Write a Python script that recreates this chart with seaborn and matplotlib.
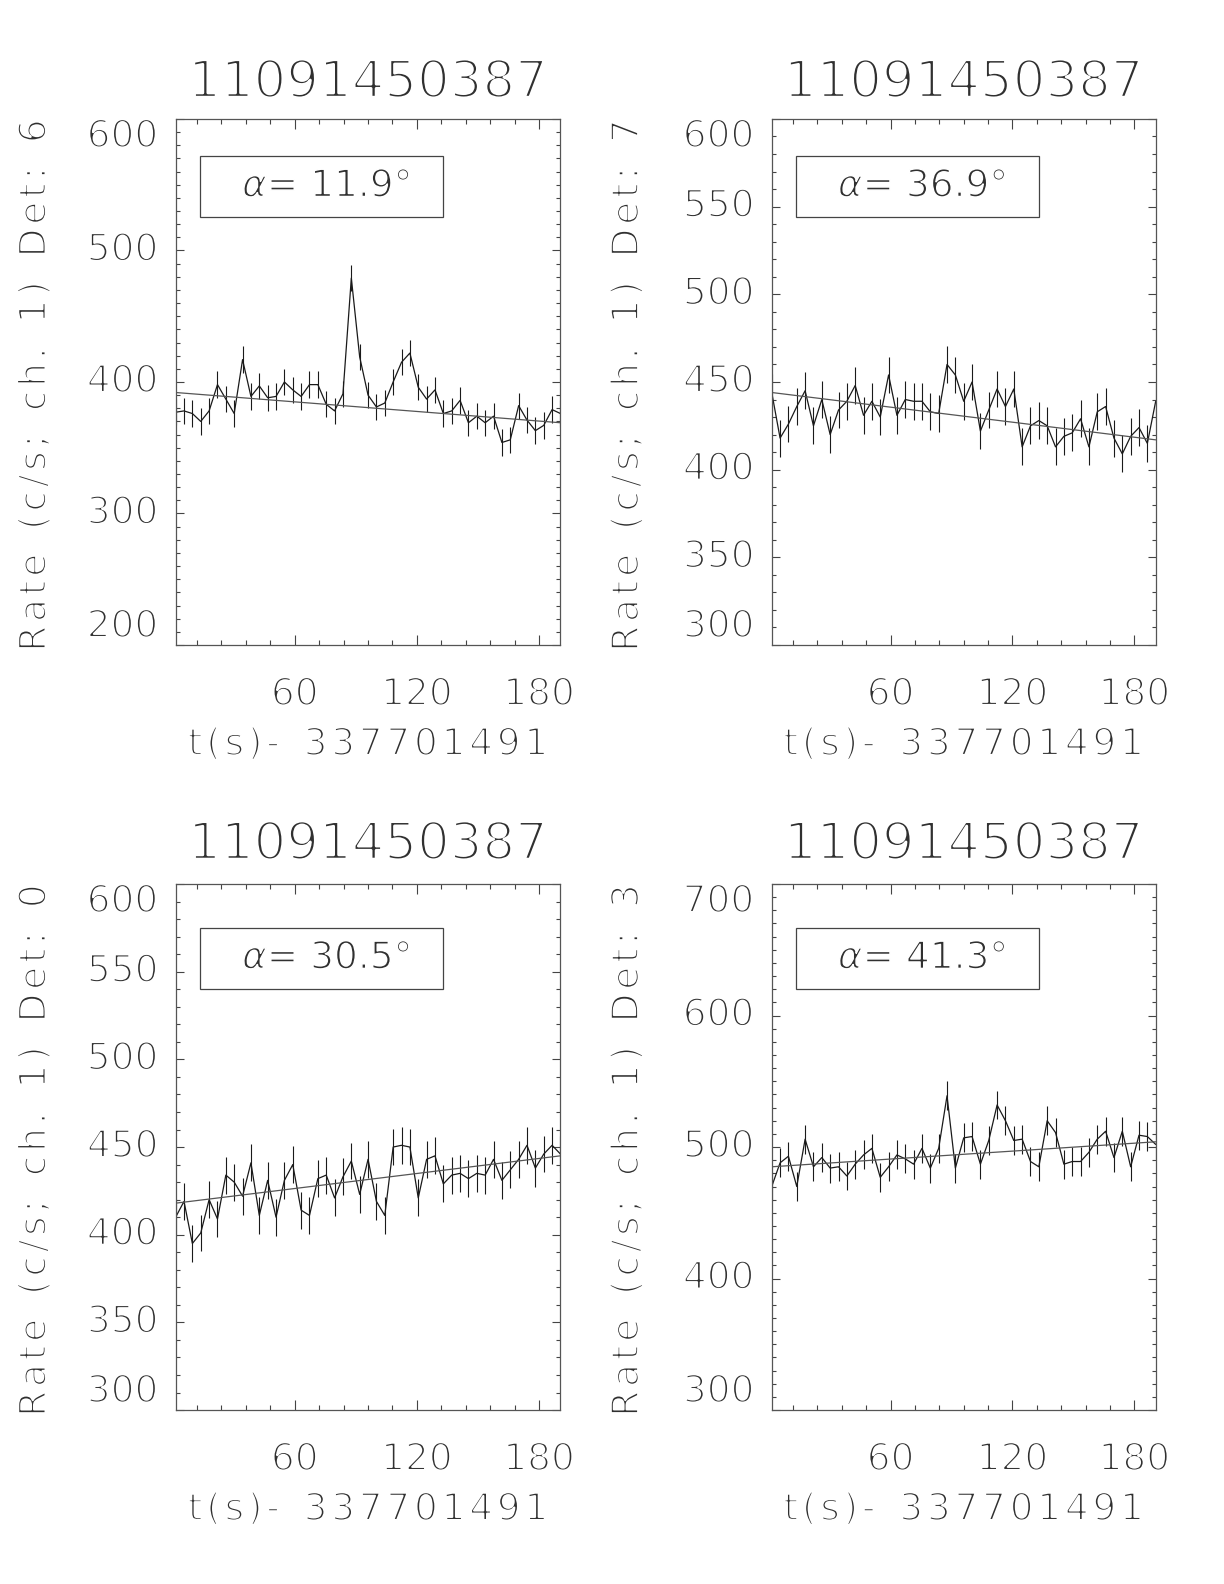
import numpy as np
import pandas as pd
import seaborn as sns
import matplotlib.pyplot as plt
import matplotlib.patheffects as pe
from matplotlib.patches import Rectangle
from matplotlib.ticker import MultipleLocator

# observation / time reference
obs_id = '11091450387'
t_ref = '337701491'
t_first, t_last, n_bins = 1.5, 190.5, 47

# light curves, channel 1 (c/s)
rate_det6 = [377, 378, 376, 370, 378, 398, 387, 376, 417, 389, 397, 388, 389, 400, 394, 389,
             398, 398, 383, 378, 391, 479, 419, 390, 381, 384, 400, 415, 422, 396, 387, 394,
             376, 378, 386, 369, 374, 369, 374, 354, 356, 382, 371, 363, 367, 379, 376]
rate_det7 = [444, 418, 426, 436, 445, 425, 440, 420, 434, 439, 448, 431, 439, 430, 454, 431,
             440, 439, 439, 433, 432, 460, 454, 439, 450, 422, 434, 446, 436, 446, 413, 425,
             428, 425, 413, 419, 421, 429, 413, 433, 436, 418, 409, 419, 424, 415, 439]
rate_det0 = [410, 419, 395, 401, 420, 409, 434, 430, 422, 441, 411, 431, 410, 431, 440, 414,
             411, 432, 434, 421, 433, 442, 423, 443, 419, 411, 450, 451, 450, 421, 443, 445,
             429, 434, 435, 432, 435, 434, 443, 431, 437, 443, 451, 438, 446, 451, 446]
rate_det3 = [470, 488, 493, 470, 506, 485, 492, 484, 485, 478, 487, 494, 499, 477, 485, 494,
             491, 487, 499, 484, 499, 539, 484, 507, 508, 487, 505, 532, 520, 505, 506, 489,
             485, 520, 511, 487, 489, 489, 496, 506, 512, 492, 512, 485, 509, 508, 502]

# error bar half widths (c/s)
err_det6, err_det7, err_det0, err_det3 = 10.0, 10.5, 10.5, 11.0

# linear background fit: value at first and last bin
fit_det6 = [392, 369]
fit_det7 = [444, 417]
fit_det0 = [418, 445]
fit_det3 = [485, 504]

alpha_deg = {'6': 11.9, '7': 36.9, '0': 30.5, '3': 41.3}

panels = [
    # det, rates, err, fit, ylim, y major, axes rect, row
    ('6', rate_det6, err_det6, fit_det6, (200, 600), 100, [0.1435, 0.5928, 0.3144, 0.3321], 0),
    ('7', rate_det7, err_det7, fit_det7, (300, 600), 50, [0.6305, 0.5928, 0.3137, 0.3321], 0),
    ('0', rate_det0, err_det0, fit_det0, (300, 600), 50, [0.1435, 0.1098, 0.3144, 0.3321], 1),
    ('3', rate_det3, err_det3, fit_det3, (300, 700), 100, [0.6305, 0.1098, 0.3137, 0.3321], 1),
]

sns.set_style('ticks')
plt.rcParams['font.family'] = ['DejaVu Sans']
plt.rcParams['mathtext.fontset'] = 'dejavusans'

txt_col = '#303030'
ink = '#1a1a1a'
fs = 27

# thin the glyphs a bit so they look like the hairline plotting font
thin = [pe.Stroke(linewidth=1.5, foreground='white')]
thin_small = [pe.Stroke(linewidth=1.1, foreground='white')]
thin_big = [pe.Stroke(linewidth=2.0, foreground='white')]


def spaced(s):
    # loose letter spacing like the original vector font
    return '\u200a'.join(s)


t = np.linspace(t_first, t_last, n_bins)

fig = plt.figure(figsize=(12.24, 15.84), dpi=100)

for det, rates, err, fit, ylim, ymaj, rect, row in panels:
    ax = fig.add_axes(rect)
    df = pd.DataFrame({'t': t, 'rate': rates})

    ax.errorbar(df['t'], df['rate'], yerr=err, fmt='none', ecolor=ink, elinewidth=0.8, capsize=0)
    sns.lineplot(data=df, x='t', y='rate', ax=ax, color=ink, lw=0.9, estimator=None)
    fit_df = pd.DataFrame({'t': [t[0], t[-1]], 'rate': fit})
    sns.lineplot(data=fit_df, x='t', y='rate', ax=ax, color='#555555', lw=0.9, estimator=None)

    ax.set_xlim(t_first, t_last)
    ax.set_ylim(*ylim)
    ax.set_xlabel('')
    ax.set_ylabel('')

    ax.set_xticks([60, 120, 180])
    ax.xaxis.set_minor_locator(MultipleLocator(12))
    yt = np.arange(ylim[0], ylim[1] + 1, ymaj)
    ax.set_yticks(yt)
    ax.yaxis.set_minor_locator(MultipleLocator(10))

    ax.tick_params(axis='both', which='both', direction='in', top=True, right=True,
                   color='#444444', width=0.8, labelcolor=txt_col, labelsize=fs)
    ax.tick_params(axis='x', which='major', length=7.2, pad=23)
    ax.tick_params(axis='x', which='minor', length=3.6)
    ax.tick_params(axis='y', which='major', length=5.8, pad=12.5)
    ax.tick_params(axis='y', which='minor', length=2.9)

    ylabs = ax.get_yticklabels()
    for lab in ylabs:
        lab.set_va('center')
        lab.set_path_effects(thin)
    ylabs[0].set_va('bottom')
    ylabs[-1].set_va('top')
    for lab in ax.get_xticklabels():
        lab.set_path_effects(thin)

    for sp in ax.spines.values():
        sp.set_color('#555555')
        sp.set_linewidth(0.9)

    # title, axis labels
    ax.text(0.5, 1.068 if row == 0 else 1.074, obs_id, transform=ax.transAxes,
            ha='center', va='center', fontsize=37, color=txt_col, path_effects=thin_big)
    ax.text(0.5, -0.19, spaced('t(s)-') + '  ' + spaced(t_ref), transform=ax.transAxes,
            ha='center', va='center', fontsize=fs, color=txt_col, path_effects=thin)
    ylx = -0.364 if rect[0] < 0.5 else -0.374
    ylab = '  '.join(spaced(w) for w in f'Rate (c/s; ch. 1) Det: {det}'.split(' '))
    ax.text(ylx, 0.493, ylab, transform=ax.transAxes, rotation=90, ha='center', va='center',
            fontsize=fs, color=txt_col, path_effects=thin)

    # angle box
    if row == 0:
        b0, b1, ty = 0.8137, 0.9287, 0.871
    else:
        b0, b1, ty = 0.800, 0.916, 0.858
    ax.add_patch(Rectangle((0.063, b0), 0.632, b1 - b0, transform=ax.transAxes,
                           fill=False, ec='#444444', lw=0.9))
    ax.text(0.392, ty, r'$\alpha$= ' + f'{alpha_deg[det]:.1f}°', transform=ax.transAxes,
            ha='center', va='center', fontsize=fs, color=txt_col, path_effects=thin_small)

fig.savefig('out.png', dpi=100, facecolor='white')
